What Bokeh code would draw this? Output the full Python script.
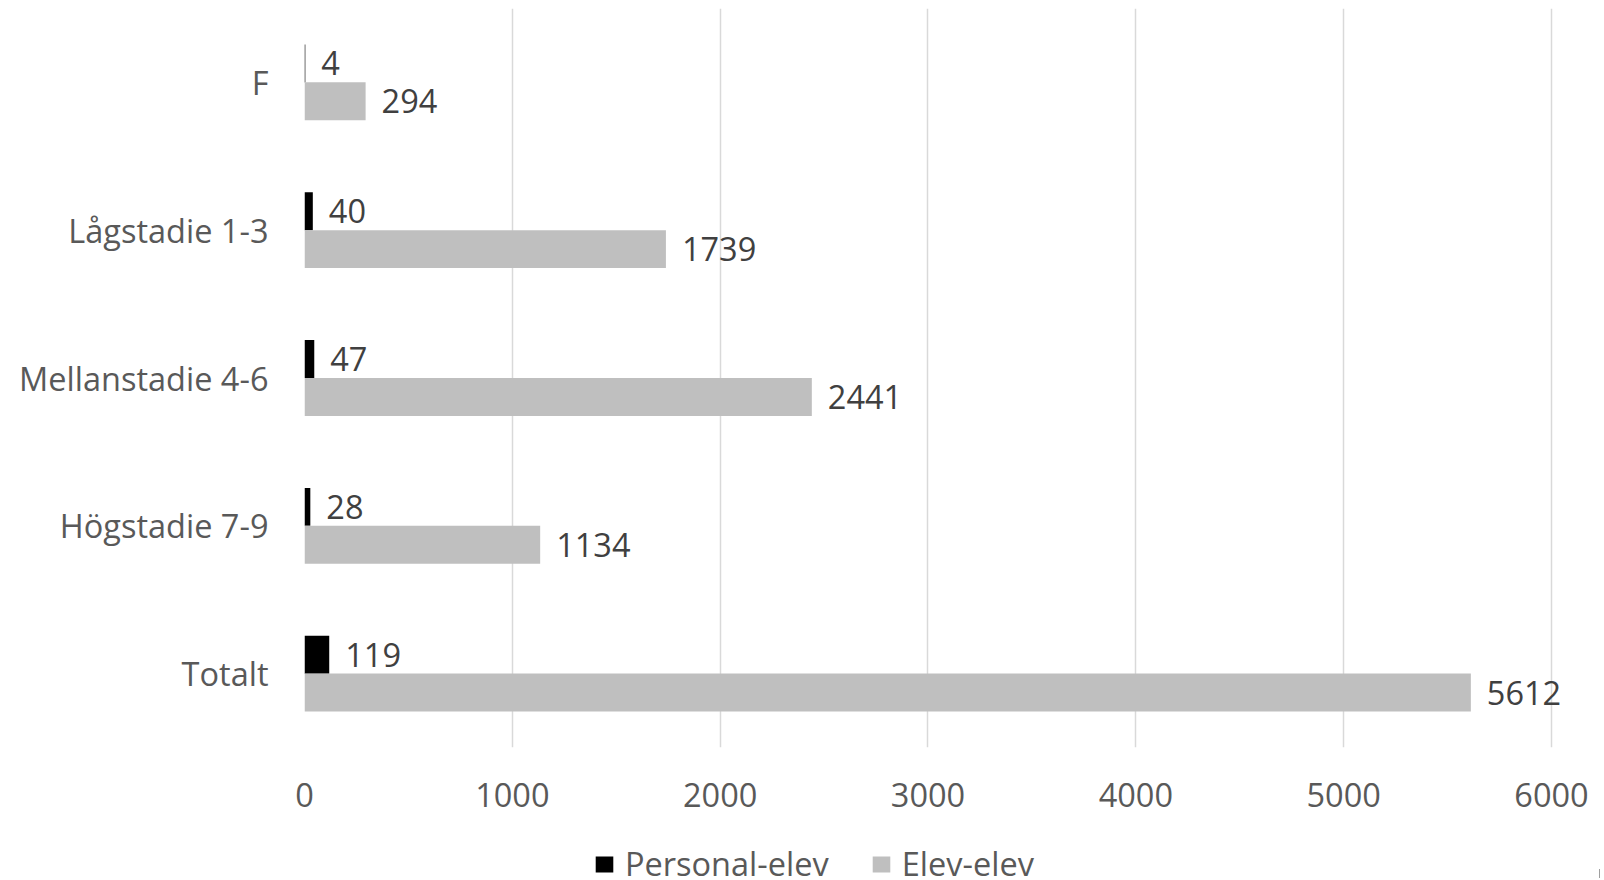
from bokeh.plotting import figure
from bokeh.models import FactorRange, ColumnDataSource, Legend, LegendItem
from bokeh.layouts import column
from bokeh.transform import dodge
from bokeh.core.properties import value
from bokeh.embed import file_html
from bokeh.resources import INLINE

categories = ["F", "Lågstadie 1-3", "Mellanstadie 4-6", "Högstadie 7-9", "Totalt"]
personal_elev = [4, 40, 47, 28, 119]
elev_elev = [294, 1739, 2441, 1134, 5612]
x_ticks = [0, 1000, 2000, 3000, 4000, 5000, 6000]
series_names = ["Personal-elev", "Elev-elev"]
series_cols = ["pe", "ee"]
series_colors = ["#000000", "#bfbfbf"]

FONT = "Open Sans"
FS = "32.5px"

src = ColumnDataSource(dict(
    cat=categories,
    pe=personal_elev,
    ee=elev_elev,
    pe_txt=[str(v) for v in personal_elev],
    ee_txt=[str(v) for v in elev_elev],
    zero=[0] * len(categories),
))

# range extends a little past 6000 so the last data label is not clipped by the frame
p = figure(width=1600, height=840, x_range=(0, 6231),
           y_range=FactorRange(factors=list(reversed(categories))),
           output_backend="svg", toolbar_location=None,
           min_border_left=304, min_border_right=1,
           min_border_top=8, min_border_bottom=93)
p.outline_line_color = None

p.hbar(y=dodge("cat", 0.128, range=p.y_range), right="pe", left=0, height=0.257,
       source=src, fill_color=series_colors[0], line_color=None)
p.hbar(y=dodge("cat", -0.128, range=p.y_range), right="ee", left=0, height=0.257,
       source=src, fill_color=series_colors[1], line_color=None)

p.text(x="pe", y=dodge("cat", 0.128, range=p.y_range), text="pe_txt", source=src,
       x_offset=16, text_baseline="middle", text_align="left",
       text_font=value(FONT), text_font_size=value(FS), text_color="#404040")
p.text(x="ee", y=dodge("cat", -0.128, range=p.y_range), text="ee_txt", source=src,
       x_offset=16, text_baseline="middle", text_align="left",
       text_font=value(FONT), text_font_size=value(FS), text_color="#404040")

p.xaxis.ticker = x_ticks
p.xaxis.axis_line_color = None
p.xaxis.major_tick_line_color = None
p.xaxis.minor_tick_line_color = None
p.xaxis.major_label_text_font = FONT
p.xaxis.major_label_text_font_size = FS
p.xaxis.major_label_text_color = "#595959"
p.xaxis.major_label_standoff = 29

p.yaxis.axis_line_color = None
p.yaxis.major_tick_line_color = None
p.yaxis.minor_tick_line_color = None
p.yaxis.major_label_text_font = FONT
p.yaxis.major_label_text_font_size = FS
p.yaxis.major_label_text_color = "#595959"
p.yaxis.major_label_standoff = 30

p.xgrid.grid_line_color = "#d9d9d9"
p.xgrid.grid_line_width = 1.5
p.ygrid.grid_line_color = None

# legend strip below the chart (its series glyphs lie outside its visible range)
lg = figure(width=1600, height=38, x_range=(-2, -1), y_range=(0, 1),
            output_backend="svg", toolbar_location=None,
            min_border_left=0, min_border_right=0, min_border_top=0, min_border_bottom=0,
            x_axis_location=None, y_axis_location=None)
lg.outline_line_color = None
lg.grid.visible = False
items = []
for name, colname, col in zip(series_names, series_cols, series_colors):
    rr = lg.hbar(y="zero", right=colname, left=0, height=0.5, source=src,
                 fill_color=col, line_color=None)
    items.append(LegendItem(label=name, renderers=[rr]))

legend = Legend(items=items, orientation="horizontal", location=(289, -8),
                padding=0, margin=0, spacing=41, label_standoff=10,
                glyph_width=22, glyph_height=20,
                border_line_color=None, background_fill_alpha=0,
                label_text_font=FONT, label_text_font_size=FS,
                label_text_color="#595959")
lg.add_layout(legend, "center")

layout = column(p, lg, spacing=0)
open("out.html", "w").write(file_html(layout, INLINE))
